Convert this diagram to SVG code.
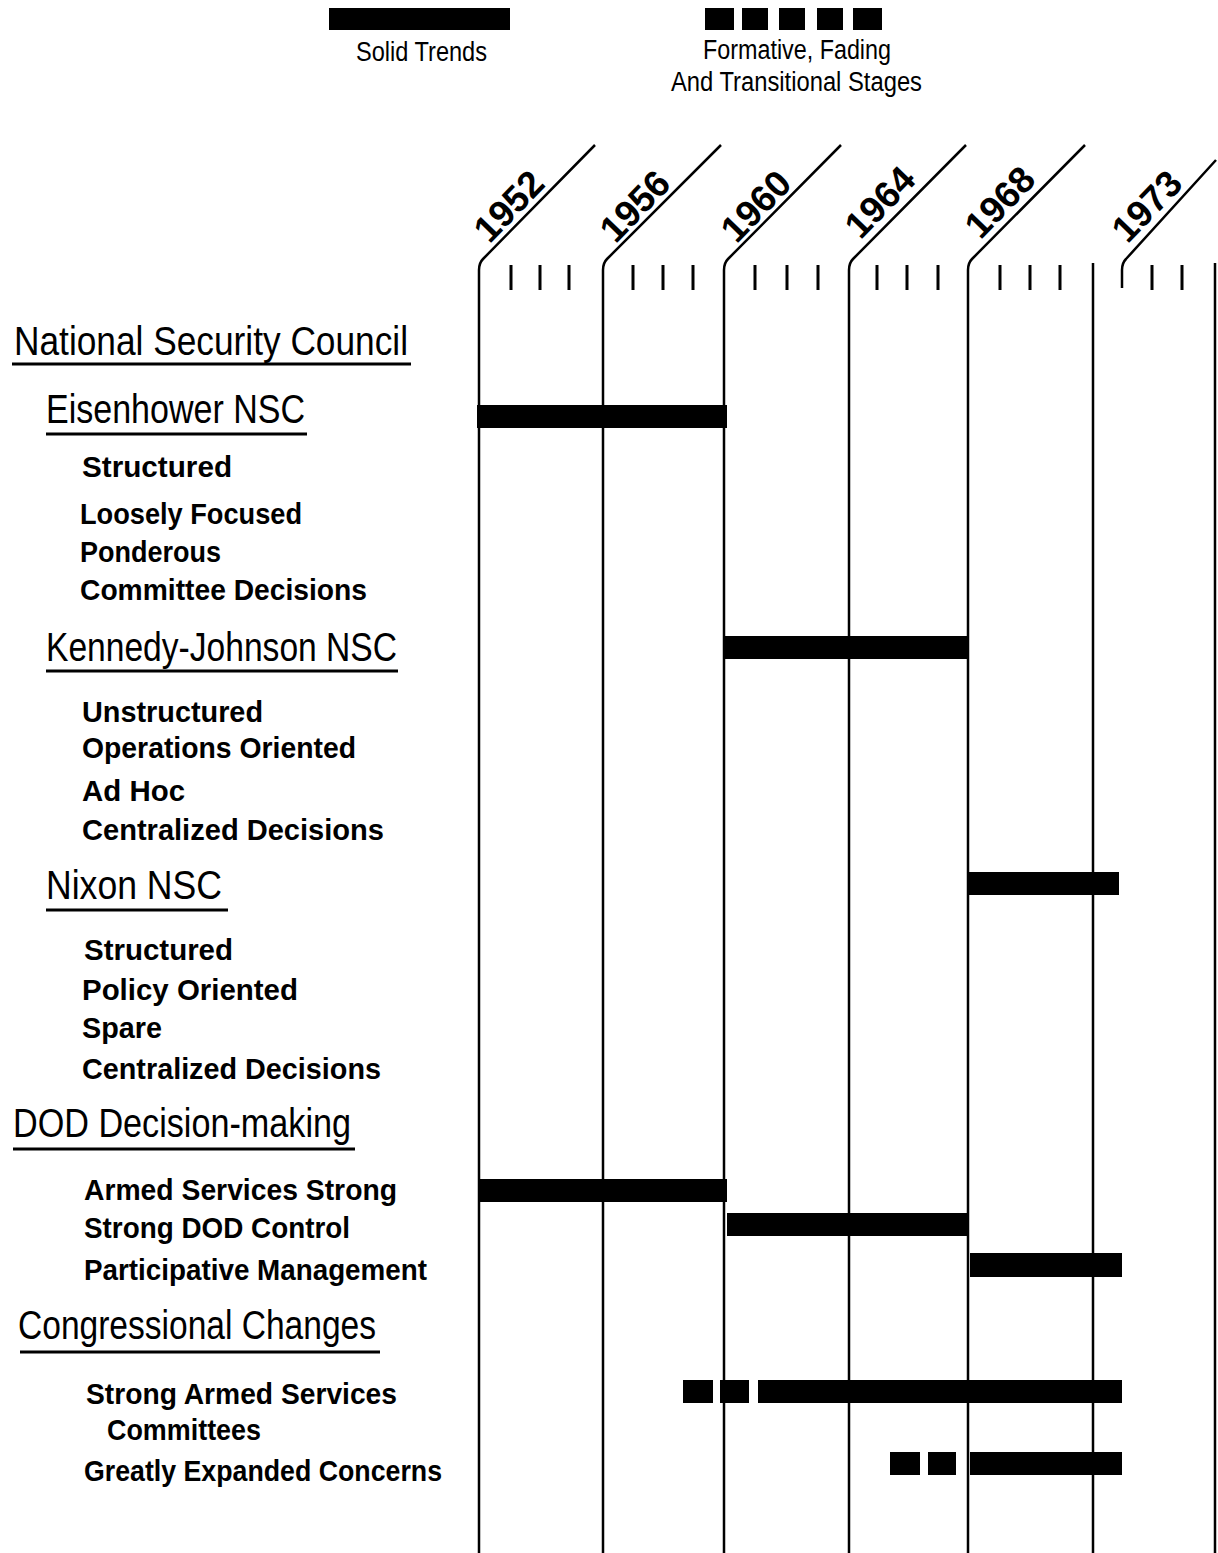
<svg xmlns="http://www.w3.org/2000/svg" width="1218" height="1553" viewBox="0 0 1218 1553">
<style>
.hd{font-family:"Liberation Sans Narrow","Liberation Sans",sans-serif;font-size:40px;fill:#000}
.it{font-family:"Liberation Sans Narrow","Liberation Sans",sans-serif;font-size:30px;font-weight:bold;fill:#000}
.lg{font-family:"Liberation Sans Narrow","Liberation Sans",sans-serif;font-size:27px;fill:#000}
.yr{font-family:"Liberation Sans Narrow","Liberation Sans",sans-serif;font-size:37px;font-weight:bold;fill:#000;text-anchor:middle}
.ul{stroke:#000;stroke-width:3;fill:none}
.grid{stroke:#000;stroke-width:2.5;fill:none}
.tick{stroke:#000;stroke-width:3;fill:none}
.bar{fill:#000}
</style>
<rect width="1218" height="1553" fill="#fff"/>
<g id="legend">
<rect class="bar" x="329" y="8" width="181" height="22"/>
<text class="lg" x="356" y="61" textLength="131" lengthAdjust="spacingAndGlyphs">Solid Trends</text>
<rect class="bar" x="705" y="8" width="29" height="22"/>
<rect class="bar" x="742" y="8" width="26" height="22"/>
<rect class="bar" x="779" y="8" width="26" height="22"/>
<rect class="bar" x="817" y="8" width="26" height="22"/>
<rect class="bar" x="853" y="8" width="29" height="22"/>
<text class="lg" x="703" y="59" textLength="188" lengthAdjust="spacingAndGlyphs">Formative, Fading</text>
<text class="lg" x="671" y="91" textLength="251" lengthAdjust="spacingAndGlyphs">And Transitional Stages</text>
</g>
<g id="timeline">
<path class="grid" d="M479 1553V270Q479 263 483 259L595 145"/>
<path class="grid" d="M603 1553V270Q603 263 607 259L721 145"/>
<path class="grid" d="M724 1553V270Q724 263 728 259L841 145"/>
<path class="grid" d="M849 1553V270Q849 263 853 259L966 145"/>
<path class="grid" d="M968 1553V270Q968 263 972 259L1085 145"/>
<path class="grid" d="M1093 1553V263"/>
<path class="grid" d="M1122 288V270Q1122 263 1126 259L1216 160"/>
<path class="grid" d="M1215 1553V263"/>
<g class="tick">
<path d="M511 265V290M540 265V290M569 265V290"/>
<path d="M633 265V290M663 265V290M693 265V290"/>
<path d="M755 265V290M787 265V290M818 265V290"/>
<path d="M877 265V290M907 265V290M938 265V290"/>
<path d="M1000 265V290M1030 265V290M1060 265V290"/>
<path d="M1152 265V290M1182 265V290"/>
</g>
<text class="yr" transform="translate(518,215) rotate(-46)">1952</text>
<text class="yr" transform="translate(644,215) rotate(-46)">1956</text>
<text class="yr" transform="translate(765,215) rotate(-46)">1960</text>
<text class="yr" transform="translate(889,211) rotate(-46)">1964</text>
<text class="yr" transform="translate(1009,211) rotate(-46)">1968</text>
<text class="yr" transform="translate(1156,215) rotate(-46)">1973</text>
</g>
<g id="nsc">
<text class="hd" x="14" y="355" textLength="394" lengthAdjust="spacingAndGlyphs">National Security Council</text>
<path class="ul" d="M12 364H411"/>
</g>
<g id="eisenhower">
<text class="hd" x="46" y="423" textLength="259" lengthAdjust="spacingAndGlyphs">Eisenhower NSC</text>
<path class="ul" d="M46 434H307"/>
<text class="it" x="82" y="477" textLength="150" lengthAdjust="spacingAndGlyphs">Structured</text>
<text class="it" x="80" y="524" textLength="222" lengthAdjust="spacingAndGlyphs">Loosely Focused</text>
<text class="it" x="80" y="562" textLength="141" lengthAdjust="spacingAndGlyphs">Ponderous</text>
<text class="it" x="80" y="600" textLength="287" lengthAdjust="spacingAndGlyphs">Committee Decisions</text>
<rect class="bar" x="477" y="405" width="250" height="23"/>
</g>
<g id="kennedy-johnson">
<text class="hd" x="46" y="661" textLength="351" lengthAdjust="spacingAndGlyphs">Kennedy-Johnson NSC</text>
<path class="ul" d="M46 671H398"/>
<text class="it" x="82" y="722" textLength="181" lengthAdjust="spacingAndGlyphs">Unstructured</text>
<text class="it" x="82" y="758" textLength="274" lengthAdjust="spacingAndGlyphs">Operations Oriented</text>
<text class="it" x="82" y="801" textLength="103" lengthAdjust="spacingAndGlyphs">Ad Hoc</text>
<text class="it" x="82" y="840" textLength="302" lengthAdjust="spacingAndGlyphs">Centralized Decisions</text>
<rect class="bar" x="724" y="636" width="244" height="23"/>
</g>
<g id="nixon">
<text class="hd" x="46" y="899" textLength="176" lengthAdjust="spacingAndGlyphs">Nixon NSC</text>
<path class="ul" d="M46 910H228"/>
<text class="it" x="84" y="960" textLength="149" lengthAdjust="spacingAndGlyphs">Structured</text>
<text class="it" x="82" y="1000" textLength="216" lengthAdjust="spacingAndGlyphs">Policy Oriented</text>
<text class="it" x="82" y="1038" textLength="80" lengthAdjust="spacingAndGlyphs">Spare</text>
<text class="it" x="82" y="1079" textLength="299" lengthAdjust="spacingAndGlyphs">Centralized Decisions</text>
<rect class="bar" x="968" y="872" width="151" height="23"/>
</g>
<g id="dod">
<text class="hd" x="13" y="1137" textLength="338" lengthAdjust="spacingAndGlyphs">DOD Decision-making</text>
<path class="ul" d="M13 1149H355"/>
<text class="it" x="84" y="1200" textLength="313" lengthAdjust="spacingAndGlyphs">Armed Services Strong</text>
<text class="it" x="84" y="1238" textLength="266" lengthAdjust="spacingAndGlyphs">Strong DOD Control</text>
<text class="it" x="84" y="1280" textLength="343" lengthAdjust="spacingAndGlyphs">Participative Management</text>
<rect class="bar" x="480" y="1179" width="247" height="23"/>
<rect class="bar" x="727" y="1213" width="242" height="23"/>
<rect class="bar" x="970" y="1253" width="152" height="24"/>
</g>
<g id="congress">
<text class="hd" x="18" y="1339" textLength="358" lengthAdjust="spacingAndGlyphs">Congressional Changes</text>
<path class="ul" d="M20 1352H380"/>
<text class="it" x="86" y="1404" textLength="311" lengthAdjust="spacingAndGlyphs">Strong Armed Services</text>
<text class="it" x="107" y="1440" textLength="154" lengthAdjust="spacingAndGlyphs">Committees</text>
<text class="it" x="84" y="1481" textLength="358" lengthAdjust="spacingAndGlyphs">Greatly Expanded Concerns</text>
<rect class="bar" x="683" y="1380" width="30" height="23"/>
<rect class="bar" x="720" y="1380" width="29" height="23"/>
<rect class="bar" x="758" y="1380" width="364" height="23"/>
<rect class="bar" x="890" y="1452" width="30" height="23"/>
<rect class="bar" x="928" y="1452" width="28" height="23"/>
<rect class="bar" x="970" y="1452" width="152" height="23"/>
</g>
</svg>
